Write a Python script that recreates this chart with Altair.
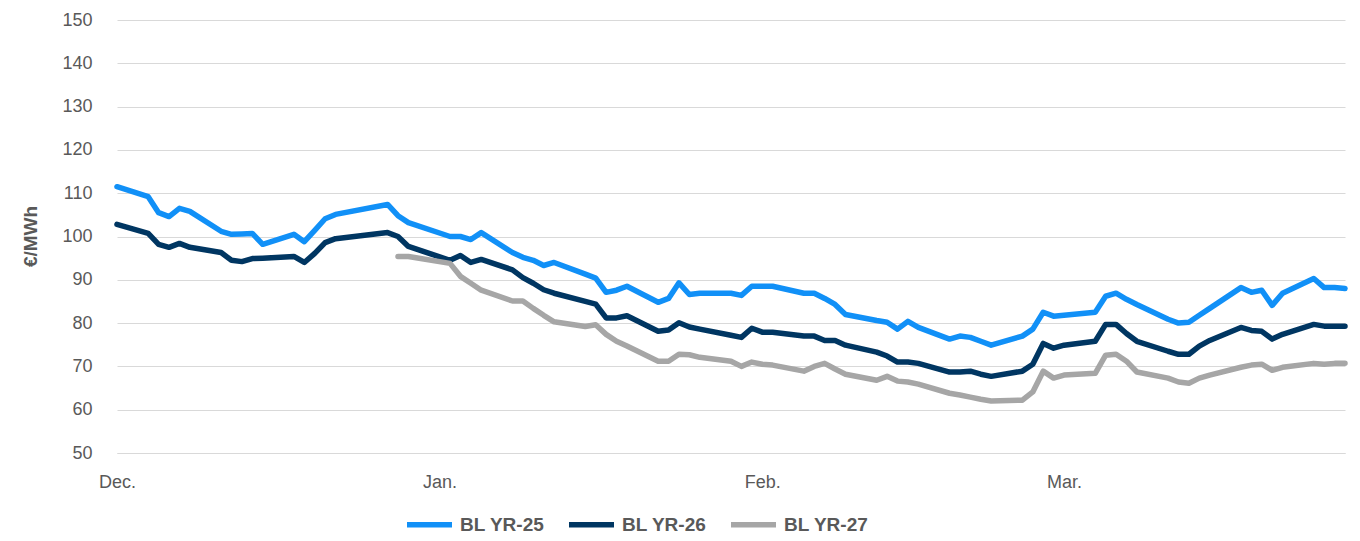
import altair as alt
import pandas as pd

dates = [
    "2023-12-01", "2023-12-04", "2023-12-05", "2023-12-06", "2023-12-07", "2023-12-08",
    "2023-12-11", "2023-12-12", "2023-12-13", "2023-12-14", "2023-12-15",
    "2023-12-18", "2023-12-19", "2023-12-20", "2023-12-21", "2023-12-22",
    "2023-12-27", "2023-12-28", "2023-12-29",
    "2024-01-02", "2024-01-03", "2024-01-04", "2024-01-05",
    "2024-01-08", "2024-01-09", "2024-01-10", "2024-01-11", "2024-01-12",
    "2024-01-15", "2024-01-16", "2024-01-17", "2024-01-18", "2024-01-19",
    "2024-01-22", "2024-01-23", "2024-01-24", "2024-01-25", "2024-01-26",
    "2024-01-29", "2024-01-30", "2024-01-31",
    "2024-02-01", "2024-02-02",
    "2024-02-05", "2024-02-06", "2024-02-07", "2024-02-08", "2024-02-09",
    "2024-02-12", "2024-02-13", "2024-02-14", "2024-02-15", "2024-02-16",
    "2024-02-19", "2024-02-20", "2024-02-21", "2024-02-22", "2024-02-23",
    "2024-02-26", "2024-02-27", "2024-02-28", "2024-02-29",
    "2024-03-01",
    "2024-03-04", "2024-03-05", "2024-03-06", "2024-03-07", "2024-03-08",
    "2024-03-11", "2024-03-12", "2024-03-13", "2024-03-14", "2024-03-15",
    "2024-03-18", "2024-03-19", "2024-03-20", "2024-03-21", "2024-03-22",
    "2024-03-25", "2024-03-26", "2024-03-27", "2024-03-28",
]

bl_yr25 = [
    111.5, 109.2, 105.5, 104.6, 106.5, 105.8, 101.2, 100.5, 100.6, 100.7, 98.2,
    100.5, 98.8, 101.4, 104.1, 105.1, 107.4, 104.8, 103.2,
    100.0, 100.0, 99.3, 100.9, 96.3, 95.2, 94.5, 93.3, 94.0,
    91.3, 90.4, 87.1, 87.6, 88.5, 84.8, 85.7, 89.3, 86.6, 86.9, 86.9, 86.4, 88.5,
    88.5, 88.5, 86.9, 86.9, 85.7, 84.3, 82.0, 80.6, 80.2, 78.6, 80.4, 79.0,
    76.3, 77.0, 76.7, 75.8, 74.9, 77.0, 78.6, 82.5, 81.6,
    81.8, 82.5, 86.2, 86.9, 85.5, 84.3, 80.9, 80.0, 80.2, 81.8, 83.4,
    88.2, 87.1, 87.6, 84.1, 86.9, 90.3, 88.2, 88.2, 88.0,
]

bl_yr26 = [
    102.8, 100.7, 98.2, 97.5, 98.4, 97.5, 96.3, 94.5, 94.2, 94.9, 95.0,
    95.4, 94.0, 96.1, 98.6, 99.5, 100.9, 100.0, 97.7,
    94.5, 95.6, 94.0, 94.7, 92.3, 90.5, 89.2, 87.7, 86.9,
    85.0, 84.4, 81.2, 81.2, 81.7, 78.1, 78.4, 80.1, 79.1, 78.6, 77.2, 76.7, 78.8,
    77.9, 77.9, 77.0, 77.0, 76.0, 76.0, 74.9, 73.3, 72.4, 71.0, 71.0, 70.7,
    68.7, 68.7, 68.9, 68.2, 67.7, 68.9, 70.5, 75.3, 74.2,
    74.9, 75.8, 79.7, 79.7, 77.6, 75.8, 73.5, 72.8, 72.8, 74.7, 76.0,
    79.0, 78.3, 78.1, 76.3, 77.4, 79.7, 79.3, 79.3, 79.3,
]

bl_yr27 = [
    None, None, None, None, None, None, None, None, None, None, None,
    None, None, None, None, None, None, 95.4, 95.4,
    93.8, 90.8, 89.2, 87.6, 85.1, 85.1, 83.4, 81.8, 80.3,
    79.2, 79.6, 77.4, 75.8, 74.7, 71.2, 71.2, 72.8, 72.7, 72.1, 71.2, 70.0, 71.0,
    70.5, 70.3, 68.9, 70.0, 70.7, 69.4, 68.2, 66.8, 67.7, 66.6, 66.4, 65.9,
    63.8, 63.4, 62.9, 62.4, 62.0, 62.2, 64.1, 68.9, 67.3,
    68.0, 68.4, 72.6, 72.8, 71.2, 68.7, 67.3, 66.4, 66.1, 67.3, 68.0,
    69.8, 70.3, 70.5, 69.1, 69.8, 70.7, 70.5, 70.7, 70.7,
]

series_names = ["BL YR-25", "BL YR-26", "BL YR-27"]
series_colors = ["#1190F7", "#003662", "#A6A6A6"]
y_ticks = [50, 60, 70, 80, 90, 100, 110, 120, 130, 140, 150]

rows = []
for name, vals in zip(series_names, [bl_yr25, bl_yr26, bl_yr27]):
    for d, v in zip(dates, vals):
        rows.append({"date": pd.Timestamp(d), "value": v, "series": name})
df = pd.DataFrame(rows)

FONT = "Liberation Sans"
GREY = "#595959"

month_ticks = [
    alt.DateTime(year=2023, month=12, date=1),
    alt.DateTime(year=2024, month=1, date=1),
    alt.DateTime(year=2024, month=2, date=1),
    alt.DateTime(year=2024, month=3, date=1),
]

chart = (
    alt.Chart(df)
    .mark_line(strokeWidth=5.5, strokeCap="round", strokeJoin="round")
    .encode(
        x=alt.X(
            "date:T",
            scale=alt.Scale(
                domain=[
                    alt.DateTime(year=2023, month=12, date=1),
                    alt.DateTime(year=2024, month=3, date=28),
                ]
            ),
            axis=alt.Axis(
                values=month_ticks,
                format="%b.",
                title=None,
                grid=False,
                ticks=False,
                labelFont=FONT,
                labelFontSize=18,
                labelColor=GREY,
                labelPadding=20,
                labelAlign="center",
                domainColor="#d9d9d9",
                domainWidth=1,
            ),
        ),
        y=alt.Y(
            "value:Q",
            scale=alt.Scale(domain=[50, 150], nice=False, zero=False),
            axis=alt.Axis(
                values=y_ticks,
                title="€/MWh",
                titleFont=FONT,
                titleFontSize=19,
                titleFontWeight="bold",
                titleColor=GREY,
                titleX=-87,
                titleY=216,
                titleAngle=270,
                titleAlign="center",
                titleBaseline="middle",
                grid=True,
                gridColor="#d9d9d9",
                gridWidth=1,
                domain=False,
                ticks=False,
                labelFont=FONT,
                labelFontSize=18,
                labelColor=GREY,
                labelPadding=25,
            ),
        ),
        color=alt.Color(
            "series:N",
            scale=alt.Scale(domain=series_names, range=series_colors),
            legend=alt.Legend(
                title=None,
                orient="none",
                direction="horizontal",
                legendX=287,
                legendY=479,
                symbolType="stroke",
                symbolStrokeWidth=5.5,
                symbolSize=2025,
                labelFont=FONT,
                labelFontSize=19,
                labelFontWeight="bold",
                labelColor=GREY,
                labelOffset=5,
                columnPadding=13,
            ),
        ),
    )
    .properties(
        width=1228,
        height=433,
        autosize=alt.AutoSizeParams(type="none"),
        padding={"left": 109, "top": 12, "right": 7, "bottom": 95},
    )
    .configure_view(stroke=None)
)

chart.save("out.html", embed_options={"renderer": "svg", "actions": False})
